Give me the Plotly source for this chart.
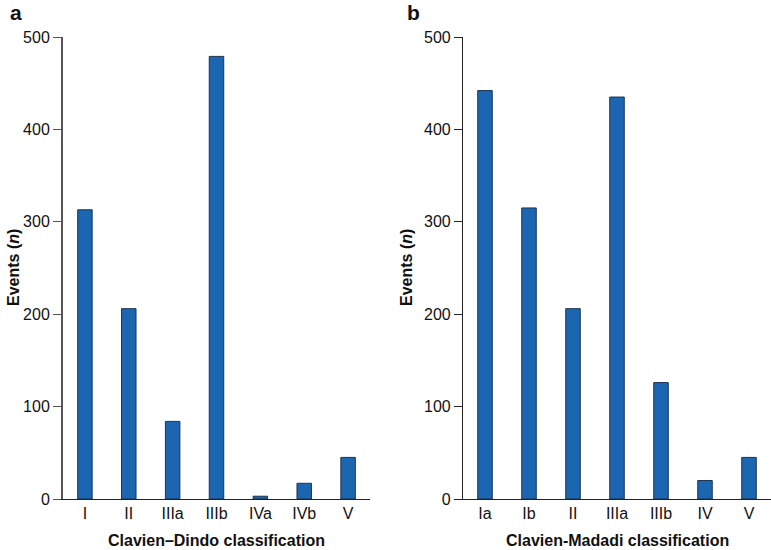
import plotly.graph_objects as go

dindo_cats = ["I", "II", "IIIa", "IIIb", "IVa", "IVb", "V"]
dindo_vals = [313, 206, 84, 479, 3, 17, 45]

madadi_cats = ["Ia", "Ib", "II", "IIIa", "IIIb", "IV", "V"]
madadi_vals = [442, 315, 206, 435, 126, 20, 45]

y_ticks = [0, 100, 200, 300, 400, 500]

BAR_FILL = "#1c66b1"
BAR_LINE = "#1b3350"
FONT = "Liberation Sans, Arial, sans-serif"

fig = go.Figure()
fig.add_trace(go.Bar(x=dindo_cats, y=dindo_vals, xaxis="x", yaxis="y",
                     marker=dict(color=BAR_FILL, line=dict(color=BAR_LINE, width=1)),
                     width=0.33, showlegend=False))
fig.add_trace(go.Bar(x=madadi_cats, y=madadi_vals, xaxis="x2", yaxis="y2",
                     marker=dict(color=BAR_FILL, line=dict(color=BAR_LINE, width=1)),
                     width=0.33, showlegend=False))

W, H = 771, 550
ML, MR, MT, MB = 63, 0, 37, 51
pw = W - ML - MR
ph = H - MT - MB

def px_x(p):
    return (p - ML) / pw

def px_y(p):
    return 1 - (p - MT) / ph

xax = dict(type="category", range=[-0.5, 6.5], showline=True, linecolor="#222", linewidth=1.3,
           ticks="", showgrid=False, zeroline=False,
           tickfont=dict(family=FONT, size=16, color="#111"), fixedrange=True)
yax_common = dict(range=[0, 500], tickvals=y_ticks, ticks="outside", ticklen=8, tickwidth=1.3,
                  showline=True, showgrid=False, zeroline=False,
                  tickfont=dict(family=FONT, size=16, color="#111"))

fig.update_layout(
    width=W, height=H,
    margin=dict(l=ML, r=MR, t=MT, b=MB),
    paper_bgcolor="white", plot_bgcolor="white",
    xaxis=dict(domain=[0, px_x(370)], anchor="y", **xax),
    xaxis2=dict(domain=[px_x(463), 1.0], anchor="y2", **xax),
    yaxis=dict(domain=[0, 1], anchor="x", linecolor="#555", linewidth=2, tickcolor="#555", **yax_common),
    yaxis2=dict(domain=[0, 1], anchor="x2", linecolor="#222", linewidth=1.2, tickcolor="#222", **yax_common),
    font=dict(family=FONT, color="#111"),
)

def note(text, x, y, size=16, angle=0):
    return dict(text=text, x=px_x(x), y=px_y(y), xref="paper", yref="paper",
                textangle=angle, showarrow=False, font=dict(family=FONT, size=size, color="#111"),
                xanchor="center", yanchor="middle")

ann = [
    note("<b>Events (<i>n</i>)</b>", 13, 268, angle=-90),
    note("<b>Events (<i>n</i>)</b>", 406, 268, angle=-90),
    note("<b>Clavien–Dindo classification</b>", 216, 540),
    note("<b>Clavien-Madadi classification</b>", 617, 540),
    note("<b>a</b>", 16, 13, size=21),
    note("<b>b</b>", 413, 13, size=21),
]
fig.update_layout(annotations=ann)

fig.write_html("out.html", config={"displayModeBar": False},
               post_script="document.body.style.margin='0';document.body.style.padding='0';")
